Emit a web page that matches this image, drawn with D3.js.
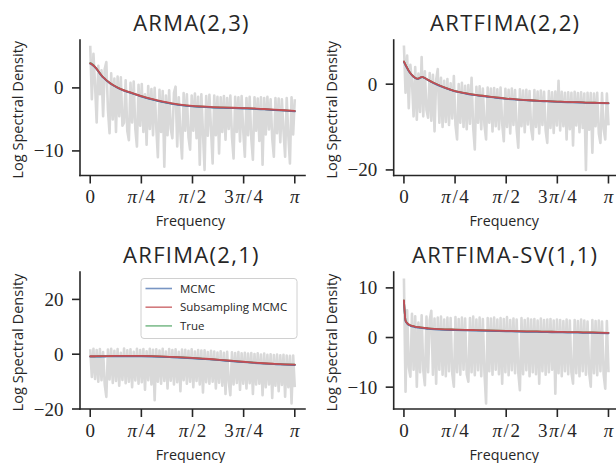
<!DOCTYPE html>
<html><head><meta charset="utf-8">
<script src="https://cdn.jsdelivr.net/npm/d3@7"></script>
<style>
body{margin:0;background:#fff;}
svg{display:block;}
</style></head><body>
<svg id="chart" width="616" height="463"></svg>
<script>
// ---------------- data ----------------
const titles = ["ARMA(2,3)", "ARTFIMA(2,2)", "ARFIMA(2,1)", "ARTFIMA-SV(1,1)"];
const seriesNames = ["MCMC", "Subsampling MCMC", "True"];
const xTickValues = [0, 0.25, 0.5, 0.75, 1];          // in units of pi
const xTickLabels = ["0", "π/4", "π/2", "3π/4", "π"];
const yTicksArma = [-10, 0];
const yTicksArtfima = [-20, 0];
const yTicksArfima = [-20, 0, 20];
const yTicksSv = [-10, 0, 10];

// frequencies (units of pi) for the fitted log-spectral-density curves
const curveFreq = [0,0.004,0.008,0.016,0.024,0.032,0.04,0.05,0.06,0.07,0.08,0.09,0.1,0.12,0.15,0.2,0.25,0.3,0.35,0.4,0.45,0.5,0.55,0.6,0.65,0.7,0.75,0.8,0.85,0.9,0.95,1.0];

const armaSub  = [3.9,3.85,3.75,3.55,3.3,3.0,2.65,2.2,1.8,1.5,1.2,0.95,0.7,0.3,-0.2,-0.75,-1.3,-1.75,-2.15,-2.45,-2.7,-2.85,-2.95,-3.05,-3.1,-3.15,-3.2,-3.25,-3.35,-3.45,-3.55,-3.65];
const armaMcmc = [3.85,3.8,3.7,3.5,3.25,2.95,2.6,2.15,1.75,1.45,1.15,0.9,0.65,0.25,-0.25,-0.82,-1.37,-1.82,-2.22,-2.52,-2.77,-2.92,-3.02,-3.12,-3.17,-3.22,-3.27,-3.32,-3.42,-3.52,-3.62,-3.72];
const armaTrue = [3.95,3.9,3.8,3.6,3.3,3.0,2.65,2.2,1.8,1.5,1.2,0.95,0.7,0.3,-0.2,-0.78,-1.32,-1.78,-2.18,-2.48,-2.72,-2.88,-2.98,-3.08,-3.12,-3.18,-3.22,-3.28,-3.38,-3.48,-3.58,-3.68];

const artfimaSub  = [5.3,4.9,4.5,3.8,3.1,2.55,2.1,1.65,1.35,1.3,1.55,1.7,1.5,0.95,0.2,-0.8,-1.6,-2.1,-2.5,-2.8,-3.1,-3.35,-3.55,-3.7,-3.85,-3.95,-4.05,-4.15,-4.2,-4.3,-4.35,-4.4];
const artfimaMcmc = [5.2,4.8,4.4,3.7,3.0,2.5,2.05,1.6,1.3,1.25,1.5,1.65,1.45,0.9,0.12,-0.88,-1.68,-2.18,-2.58,-2.88,-3.18,-3.42,-3.62,-3.78,-3.92,-4.02,-4.12,-4.22,-4.28,-4.38,-4.42,-4.48];
const artfimaTrue = [5.3,4.9,4.5,3.8,3.1,2.55,2.1,1.65,1.35,1.3,1.55,1.7,1.5,0.95,0.2,-0.8,-1.6,-2.1,-2.5,-2.8,-3.1,-3.35,-3.55,-3.7,-3.85,-3.95,-4.05,-4.15,-4.2,-4.3,-4.35,-4.4];

const arfimaSub  = [-0.75,-0.75,-0.75,-0.75,-0.74,-0.73,-0.72,-0.71,-0.7,-0.69,-0.68,-0.67,-0.66,-0.64,-0.62,-0.6,-0.62,-0.7,-0.82,-0.98,-1.15,-1.35,-1.6,-1.85,-2.15,-2.45,-2.75,-3.05,-3.3,-3.5,-3.68,-3.8];
const arfimaMcmc = [-0.9,-0.9,-0.9,-0.9,-0.89,-0.88,-0.87,-0.86,-0.85,-0.84,-0.83,-0.82,-0.81,-0.79,-0.77,-0.75,-0.77,-0.85,-0.97,-1.13,-1.3,-1.5,-1.75,-2.0,-2.3,-2.6,-2.9,-3.2,-3.45,-3.65,-3.83,-3.95];
const arfimaTrue = [-0.78,-0.78,-0.78,-0.78,-0.77,-0.76,-0.75,-0.74,-0.73,-0.72,-0.71,-0.7,-0.69,-0.67,-0.65,-0.63,-0.65,-0.73,-0.85,-1.01,-1.18,-1.38,-1.63,-1.88,-2.18,-2.48,-2.78,-3.08,-3.33,-3.53,-3.71,-3.83];

const svSub  = [7.5,5.0,3.4,2.9,2.6,2.45,2.35,2.25,2.15,2.1,2.05,2.0,1.95,1.85,1.75,1.65,1.6,1.55,1.5,1.45,1.4,1.35,1.3,1.25,1.22,1.18,1.15,1.1,1.07,1.03,1.0,0.95];
const svMcmc = [7.4,4.9,3.3,2.8,2.5,2.35,2.25,2.15,2.05,2.0,1.95,1.9,1.85,1.75,1.65,1.55,1.5,1.45,1.4,1.35,1.3,1.25,1.2,1.15,1.12,1.08,1.05,1.0,0.97,0.93,0.9,0.85];
const svTrue = [7.5,5.0,3.4,2.9,2.6,2.45,2.35,2.25,2.15,2.1,2.05,2.0,1.95,1.85,1.75,1.65,1.6,1.55,1.5,1.45,1.4,1.35,1.3,1.25,1.22,1.18,1.15,1.1,1.07,1.03,1.0,0.95];

// log periodograms at 128 Fourier frequencies from 0 to pi
const armaPgram = [
 6.7,-1.8,5.4,0.5,-5.5,3.5,-1.0,2.8,-4.5,3.0,4.1,-3.5,-7.2,2.3,-5.0,1.5,
 -7.0,1.8,-4.5,1.7,-6.0,-5.5,1.2,-6.8,-8.3,0.8,-5.5,1.0,-6.5,-9.3,0.5,-6.0,
 0.6,-7.0,-1.0,-9.0,0.3,-6.5,-0.2,-7.5,0.0,-6.2,-11.0,-0.3,-7.0,-0.5,-12.5,-1.2,
 -7.5,-0.4,-6.5,-8.0,-0.8,0.2,-9.3,-1.5,-7.2,-11.2,-0.8,-6.8,-1.0,-7.8,-9.8,-1.2,
 -6.8,-0.9,-8.0,-1.4,-12.2,-1.0,-7.2,-13.0,-1.3,-7.6,-1.1,-6.6,-12.0,-1.2,-7.5,-1.4,
 -10.4,-1.5,-7.0,-1.3,-8.2,-1.6,-6.5,-1.2,-7.8,-11.2,-1.4,-7.0,-1.5,-8.5,-1.3,-6.8,
 -10.9,-1.6,-7.5,-1.4,-8.0,-11.4,-1.5,-6.8,-1.7,-8.4,-1.5,-12.2,-1.6,-7.4,-1.4,-6.6,
 -1.8,-8.0,-10.9,-1.6,-7.2,-1.7,-8.6,-1.8,-6.8,-10.9,-1.6,-7.6,-12.0,-1.5,-7.4,-1.8];
const artfimaPgram = [
 9.0,-2.0,6.7,-5.6,4.5,0.5,-7.5,4.0,-8.3,2.5,-6.5,6.3,-7.5,3.0,-6.0,-7.8,
 2.6,-8.5,2.2,-11.0,1.0,3.5,-9.0,1.5,-10.0,0.8,-8.8,1.2,-9.5,0.2,-8.0,1.9,
 -9.5,-12.9,0.0,-9.0,0.3,-10.0,-0.4,-10.5,-0.2,-9.2,1.5,-10.0,-15.2,-0.6,-9.0,-0.5,
 -10.5,-1.0,-9.5,-12.9,-0.8,-9.0,-1.0,-11.0,-0.9,-9.8,-1.2,-10.5,-0.8,-9.2,-13.3,-1.1,
 -10.0,-1.3,-11.5,-1.0,-9.5,-1.4,-10.6,-14.8,-1.2,-9.8,-1.5,-11.2,-1.3,-9.4,-1.6,-10.4,
 -12.9,-1.4,-10.0,-1.7,-11.5,-1.5,-9.5,-1.8,-10.8,-13.7,-1.6,-10.2,-1.9,-11.4,-1.7,-9.6,
 0.8,-10.8,-1.8,-9.8,-2.0,-12.9,-1.9,-10.5,-2.0,-14.3,-1.8,-9.6,-2.1,-11.2,-1.9,-10.2,
 -2.2,-20.0,-2.0,-10.6,-2.1,-16.0,-2.2,-9.8,-2.0,-11.5,-13.7,-2.1,-10.4,-12.9,-2.2,-9.6];
const arfimaPgram = [
 1.8,-8.3,2.0,-9.0,1.5,-10.0,1.9,-9.5,0.8,-11.0,-15.6,1.7,-9.2,2.0,-10.5,1.2,
 -9.8,1.9,-11.5,0.5,-9.4,2.1,-10.6,1.4,-10.0,1.8,-12.0,0.9,-9.6,2.0,-10.8,1.5,
 -10.2,1.9,-13.0,1.1,-9.5,2.0,-11.0,1.6,-16.8,1.8,-10.0,1.3,-10.8,2.0,-9.8,1.0,
 -12.5,1.9,-9.7,1.5,-11.0,1.8,-10.2,0.9,-13.5,1.7,-9.5,1.6,-10.8,1.2,-10.0,1.8,
 -12.0,1.0,-9.8,1.5,-11.0,1.3,-14.0,1.4,-10.2,0.8,-10.8,1.2,-10.0,1.0,-12.5,0.6,
 -10.4,1.1,-11.5,0.5,-14.5,0.9,-10.0,-15.0,0.7,-11.0,0.4,-10.5,0.8,-13.0,0.3,-10.8,
 0.5,-12.5,0.2,-10.6,0.4,-14.5,0.1,-11.0,0.3,-10.8,-0.1,-15.0,0.2,-12.0,-0.2,-11.0,
 0.0,-16.0,-0.3,-11.5,-0.1,-13.5,-0.4,-11.2,-0.2,-15.5,-0.5,-12.0,-0.6,-18.0,-0.5,-12.0];
const svPgram = [
 11.9,-10.9,5.5,-6.0,-7.9,4.8,-6.5,4.3,-9.9,3.0,-7.0,4.5,-6.5,-9.6,4.2,-7.0,
 3.5,5.4,-7.5,3.8,-9.3,4.0,-6.5,4.2,-7.5,3.6,-7.8,4.0,-6.8,3.9,-7.2,-9.9,
 4.1,-7.0,3.7,-7.5,4.0,-6.5,3.8,-7.4,-8.9,3.9,-7.0,4.2,-7.6,3.6,-6.6,4.0,
 -7.8,3.7,-7.0,-13.3,3.9,-6.8,3.8,-7.5,4.0,-6.5,3.6,-7.4,3.9,-9.3,3.7,-7.0,
 4.1,-7.6,3.5,-6.6,3.8,-7.2,3.6,-7.0,-10.6,3.9,-7.4,3.5,-6.6,3.8,-7.8,3.6,
 -7.0,3.7,-7.4,3.4,-9.3,3.8,-6.8,3.5,-7.5,3.6,-7.0,3.7,-6.5,3.4,-11.3,3.6,
 -7.2,3.5,-7.8,3.3,-6.8,3.6,-7.4,3.4,-7.0,-9.3,3.5,-7.2,3.3,-7.8,3.6,-6.8,
 3.4,-7.5,3.2,-7.0,-9.9,3.5,-7.2,3.3,-7.6,3.4,-6.8,3.2,-7.4,-10.3,3.3,-7.0];

// ---------------- layout ----------------
const panels = [
  {title: titles[0], left: 80,    top: 40,  bottom: 175.5, yDomain: [-13.9, 7.6],  yTicks: yTicksArma,    pgram: armaPgram,    mcmc: armaMcmc,    sub: armaSub,    tru: armaTrue},
  {title: titles[1], left: 393.7, top: 40,  bottom: 175.5, yDomain: [-21.3, 10.3], yTicks: yTicksArtfima, pgram: artfimaPgram, mcmc: artfimaMcmc, sub: artfimaSub, tru: artfimaTrue},
  {title: titles[2], left: 80,    top: 272, bottom: 409,   yDomain: [-20, 30],     yTicks: yTicksArfima,  pgram: arfimaPgram,  mcmc: arfimaMcmc,  sub: arfimaSub,  tru: arfimaTrue, legend: true},
  {title: titles[3], left: 393.7, top: 272, bottom: 409,   yDomain: [-14.4, 13.2], yTicks: yTicksSv,      pgram: svPgram,      mcmc: svMcmc,      sub: svSub,      tru: svTrue}
];
const PW = 225;
const ink = "#262626";
const colors = {mcmc: "#4c72b0", sub: "#c44e52", tru: "#55a868", gray: "#d9d9d9"};
const sansFont = "'Open Sans', 'Noto Sans', sans-serif";
const serifFont = "'Liberation Serif', 'DejaVu Serif', serif";

const svg = d3.select("#chart");
svg.append("rect").attr("width", 616).attr("height", 463).attr("fill", "#fff");

panels.forEach((p, k) => {
  const x = d3.scaleLinear().domain([-0.05, 1.05]).range([p.left, p.left + PW]);
  const y = d3.scaleLinear().domain(p.yDomain).range([p.bottom, p.top]);
  const g = svg.append("g");
  const clipId = "clip" + k;
  g.append("clipPath").attr("id", clipId).append("rect")
    .attr("x", p.left).attr("y", p.top).attr("width", PW).attr("height", p.bottom - p.top);
  const plot = g.append("g").attr("clip-path", `url(#${clipId})`);

  const N = p.pgram.length;
  const pgLine = d3.line().x((d, i) => x(i / (N - 1))).y(d => y(d));
  plot.append("path").attr("d", pgLine(p.pgram))
    .attr("fill", "none").attr("stroke", colors.gray).attr("stroke-width", 2.6).attr("stroke-linejoin", "round");

  const cLine = d3.line().x((d, i) => x(curveFreq[i])).y(d => y(d)).curve(d3.curveMonotoneX);
  [["tru", p.tru], ["mcmc", p.mcmc], ["sub", p.sub]].forEach(([key, arr]) => {
    plot.append("path").attr("d", cLine(arr)).attr("fill", "none")
      .attr("stroke", colors[key]).attr("stroke-width", 1.8).attr("stroke-linecap", "round");
  });

  // spines
  g.append("line").attr("x1", p.left).attr("x2", p.left).attr("y1", p.top).attr("y2", p.bottom)
    .attr("stroke", ink).attr("stroke-width", 1.6).attr("stroke-linecap", "square");
  g.append("line").attr("x1", p.left).attr("x2", p.left + PW).attr("y1", p.bottom).attr("y2", p.bottom)
    .attr("stroke", ink).attr("stroke-width", 1.6).attr("stroke-linecap", "square");

  // x ticks
  xTickValues.forEach((v, i) => {
    const xx = x(v);
    g.append("line").attr("x1", xx).attr("x2", xx).attr("y1", p.bottom).attr("y2", p.bottom + 8)
      .attr("stroke", ink).attr("stroke-width", 1.6);
    const lab = xTickLabels[i];
    const t = g.append("text").attr("x", xx + (lab.length > 1 ? 0.8 : 0)).attr("y", p.bottom + 27.5).attr("text-anchor", "middle")
      .attr("font-family", serifFont).attr("font-size", 19).attr("fill", ink)
      .attr("letter-spacing", lab.length > 1 ? 1.6 : 0);
    lab.split(/(π)/).filter(s => s.length).forEach(s => {
      t.append("tspan").text(s).attr("font-style", s === "π" ? "italic" : "normal");
    });
  });
  // y ticks
  p.yTicks.forEach(v => {
    const yy = y(v);
    g.append("line").attr("x1", p.left - 8).attr("x2", p.left).attr("y1", yy).attr("y2", yy)
      .attr("stroke", ink).attr("stroke-width", 1.6);
    g.append("text").attr("x", p.left - 16.5).attr("y", yy + 6.5).attr("text-anchor", "end")
      .attr("font-family", serifFont).attr("font-size", 19).attr("fill", ink)
      .text(v < 0 ? "\u2212" + Math.abs(v) : String(v));
  });

  // labels
  g.append("text").attr("x", p.left + PW / 2 - 1).attr("y", p.top - 9.5).attr("text-anchor", "middle")
    .attr("font-family", sansFont).attr("font-size", 22).attr("letter-spacing", 1.3).attr("fill", ink).text(p.title);
  g.append("text").attr("x", p.left + PW / 2 - 2).attr("y", p.bottom + 50.5).attr("text-anchor", "middle")
    .attr("font-family", sansFont).attr("font-size", 14.3).attr("fill", ink).text("Frequency");
  const ly = (p.top + p.bottom) / 2 + 2;
  g.append("text").attr("transform", `translate(${p.left - 57},${ly}) rotate(-90)`)
    .attr("text-anchor", "middle")
    .attr("font-family", sansFont).attr("font-size", 14.6).attr("fill", ink).text("Log Spectral Density");

  if (p.legend) {
    const lg = g.append("g");
    lg.append("rect").attr("x", 141).attr("y", 278.5).attr("width", 156).attr("height", 60)
      .attr("rx", 3).attr("fill", "#fff").attr("stroke", "#d0d0d0").attr("stroke-width", 1);
    const keys = ["mcmc", "sub", "tru"];
    seriesNames.forEach((name, i) => {
      const yy = 288.5 + i * 18.7;
      lg.append("line").attr("x1", 145.5).attr("x2", 172).attr("y1", yy).attr("y2", yy)
        .attr("stroke", colors[keys[i]]).attr("stroke-width", 1.6).attr("opacity", 0.75);
      lg.append("text").attr("x", 180).attr("y", yy + 4).attr("font-family", sansFont)
        .attr("font-size", 11.5).attr("fill", ink).text(name);
    });
  }
});
</script>
</body></html>
